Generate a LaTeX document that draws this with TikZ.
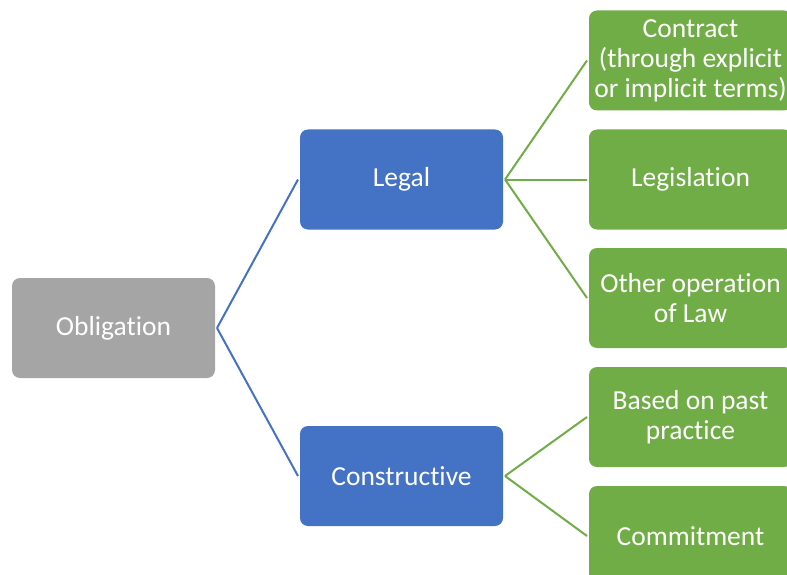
\documentclass[tikz,border=0pt]{standalone}
\usepackage{fontspec}
\setmainfont[Ligatures={NoCommon}]{Carlito}
\usepackage{xcolor}
\usepackage{tikz}
\definecolor{greyFill}{HTML}{A5A5A5}
\definecolor{legalBlue}{HTML}{4472C4}
\definecolor{leafGreen}{HTML}{70AD47}
\tikzset{
  card/.style={rounded corners=8pt, minimum width=203pt, minimum height=100pt,
    inner sep=0pt, outer sep=2pt, text=white, align=center,
    font=\fontsize{27.5}{30}\selectfont},
  rootBox/.style={card, fill=greyFill},
  branchBox/.style={card, fill=legalBlue},
  leafBox/.style={card, fill=leafGreen},
  branchLine/.style={line width=2pt, draw=legalBlue},
  leafLine/.style={line width=2pt, draw=leafGreen}
}

\begin{document}
\begin{tikzpicture}[x=1pt, y=-1pt]
    \useasboundingbox (0,0) rectangle (787,575);

    % Root
    \node[rootBox] (oblig) at (113.5,328) {Obligation};

    % Branches
    \node[branchBox] (legal) at (401.5,179.5) {Legal};
    \node[branchBox] (constr) at (401.5,476) {Constructive};
    \draw[branchLine] (oblig.east) -- (legal.west);
    \draw[branchLine] (oblig.east) -- (constr.west);

    % Leaves of Legal
    \node[leafBox] (contract) at (690.5,60.5) {Contract\\(through explicit\\or implicit terms)};
    \node[leafBox] (legis) at (690.5,179.5) {Legislation};
    \node[leafBox] (other) at (690.5,298) {Other operation\\of Law};
    \foreach \leaf in {contract,legis,other}
      \draw[leafLine] (legal.east) -- (\leaf.west);

    % Leaves of Constructive
    \node[leafBox] (practice) at (690.5,417) {Based on past\\practice};
    \node[leafBox] (commit) at (690.5,536) {Commitment};
    \foreach \leaf in {practice,commit}
      \draw[leafLine] (constr.east) -- (\leaf.west);
\end{tikzpicture}
\end{document}
